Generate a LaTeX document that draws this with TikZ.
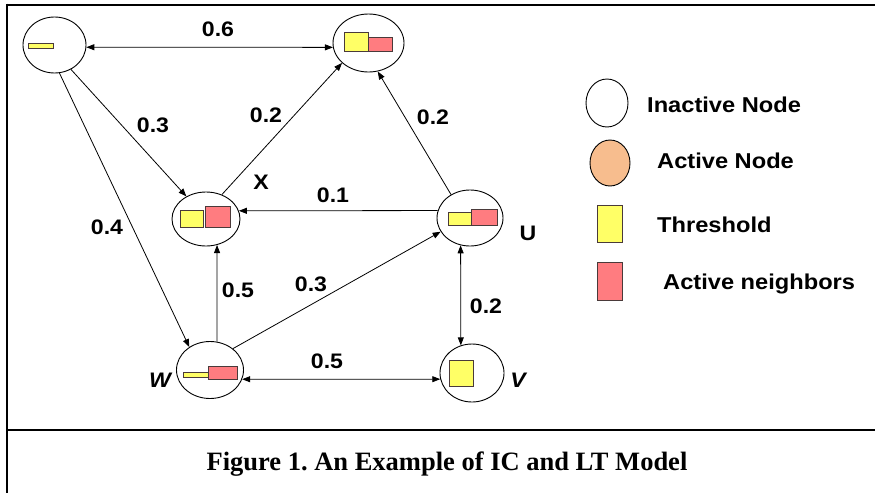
\documentclass[tikz,border=0pt]{standalone}
\usepackage{fontspec}
\setmainfont{Liberation Serif}
\newfontfamily\labelfont[FakeStretch=1.1]{Liberation Sans}
\usetikzlibrary{arrows.meta,shapes.geometric}

\definecolor{thrYellow}{HTML}{FFFF66}
\definecolor{nbrPink}{HTML}{FF7C80}
\definecolor{activePeach}{HTML}{F7BD8E}
\definecolor{boxEdge}{HTML}{4A3A3A}

\begin{document}
\frenchspacing
\begin{tikzpicture}[x=1pt,y=-1pt,
  vertex/.style={draw, ellipse, line width=0.9pt, inner sep=0pt},
  thr/.style={fill=thrYellow, draw=boxEdge, line width=0.8pt},
  nbr/.style={fill=nbrPink, draw=boxEdge, line width=0.8pt},
  link/.style={line width=0.8pt},
  arr/.style={link, -{Triangle[length=8pt,width=6pt]}},
  dbl/.style={link, {Triangle[length=8pt,width=6pt]}-{Triangle[length=8pt,width=6pt]}},
  lab/.style={font=\labelfont\bfseries\fontsize{21}{22}\selectfont, inner sep=0pt},
  itlab/.style={lab, font=\labelfont\bfseries\itshape\fontsize{21}{22}\selectfont},
  legtext/.style={font=\labelfont\bfseries\fontsize{21.5}{22}\selectfont, inner sep=0pt, anchor=base west},
  frameline/.style={line width=2.6pt}
]
\useasboundingbox (0,0) rectangle (875,493);

% frame and caption rule
\draw[frameline] (7,5) -- (875,5);
\draw[frameline] (7,3.7) -- (7,493);
\draw[frameline] (7,430) -- (875,430);

% network nodes
\node[vertex, minimum width=63pt, minimum height=56pt] (A) at (54.5,45) {};
\node[vertex, minimum width=71pt, minimum height=58pt] (B) at (368.5,43) {};
\node[vertex, minimum width=68pt, minimum height=54pt] (X) at (206,219) {};
\node[vertex, minimum width=66pt, minimum height=56pt] (U) at (470,218) {};
\node[vertex, minimum width=67pt, minimum height=57pt] (W) at (210,370) {};
\node[vertex, minimum width=64pt, minimum height=58pt] (V) at (472,373) {};

% threshold / active-neighbour bars
\draw[thr] (28,43) rectangle (53,48);
\draw[thr] (344,32) rectangle (368,51);
\draw[nbr] (368,37) rectangle (392,51);
\draw[thr] (180,210) rectangle (203,227);
\draw[nbr] (205,206) rectangle (230,227);
\draw[thr] (448,212) rectangle (471,225);
\draw[nbr] (471,209) rectangle (497,225);
\draw[thr] (183,372) rectangle (208,377);
\draw[nbr] (208,366) rectangle (237,379);
\draw[thr] (449,360) rectangle (473,386);

% edges
\draw[dbl] (A.-4.5) -- (B.187);
\draw[arr] (A.-56) -- (X.131);
\draw[arr] (A.-80) -- (W.132);
\draw[arr] (X.57) -- (B.217);
\draw[arr] (U.129) -- (B.-72);
\draw[arr] (U.167) -- (X.14);
\draw[arr] (W.76) -- (X.-67);
\draw[arr] (W.43) -- (U.205);
\draw[dbl] (W.-16) -- (V.191);
\draw[dbl] (U.-109) -- (V.112);

% edge weights and node names
\node[lab] (l1) at (218,29) {0.6};
\node[lab] (l2) at (153,125) {0.3};
\node[lab] (l3) at (266,115) {0.2};
\node[lab] (l4) at (433,117) {0.2};
\node[lab] (l5) at (333,195) {0.1};
\node[lab] (l6) at (107,227) {0.4};
\node[lab] (l7) at (238,290) {0.5};
\node[lab] (l8) at (311,284) {0.3};
\node[lab] (l9) at (327,361) {0.5};
\node[lab] (l10) at (486,306) {0.2};
\node[lab] (nX) at (261,182) {X};
\node[lab] (nU) at (528,233) {U};
\node[itlab] (nW) at (160,380) {W};
\node[itlab] (nV) at (518,380) {V};

% legend
\node[vertex, minimum width=42pt, minimum height=48pt] (k1) at (607,103) {};
\node[vertex, fill=activePeach, minimum width=40pt, minimum height=46pt] (k2) at (610,163) {};
\draw[thr] (597,205) rectangle (622,242);
\draw[nbr] (597,262) rectangle (622,300);
\node[legtext] (t1) at (647,112) {Inactive Node};
\node[legtext] (t2) at (657,168) {Active Node};
\node[legtext] (t3) at (657,232) {Threshold};
\node[legtext] (t4) at (663,289) {Active neighbors};

% caption
\node[font=\bfseries\fontsize{26.5}{28}\selectfont, inner sep=0pt, anchor=base] (cap) at (447,470) {Figure 1. An Example of IC and LT Model};
\end{tikzpicture}
\end{document}
